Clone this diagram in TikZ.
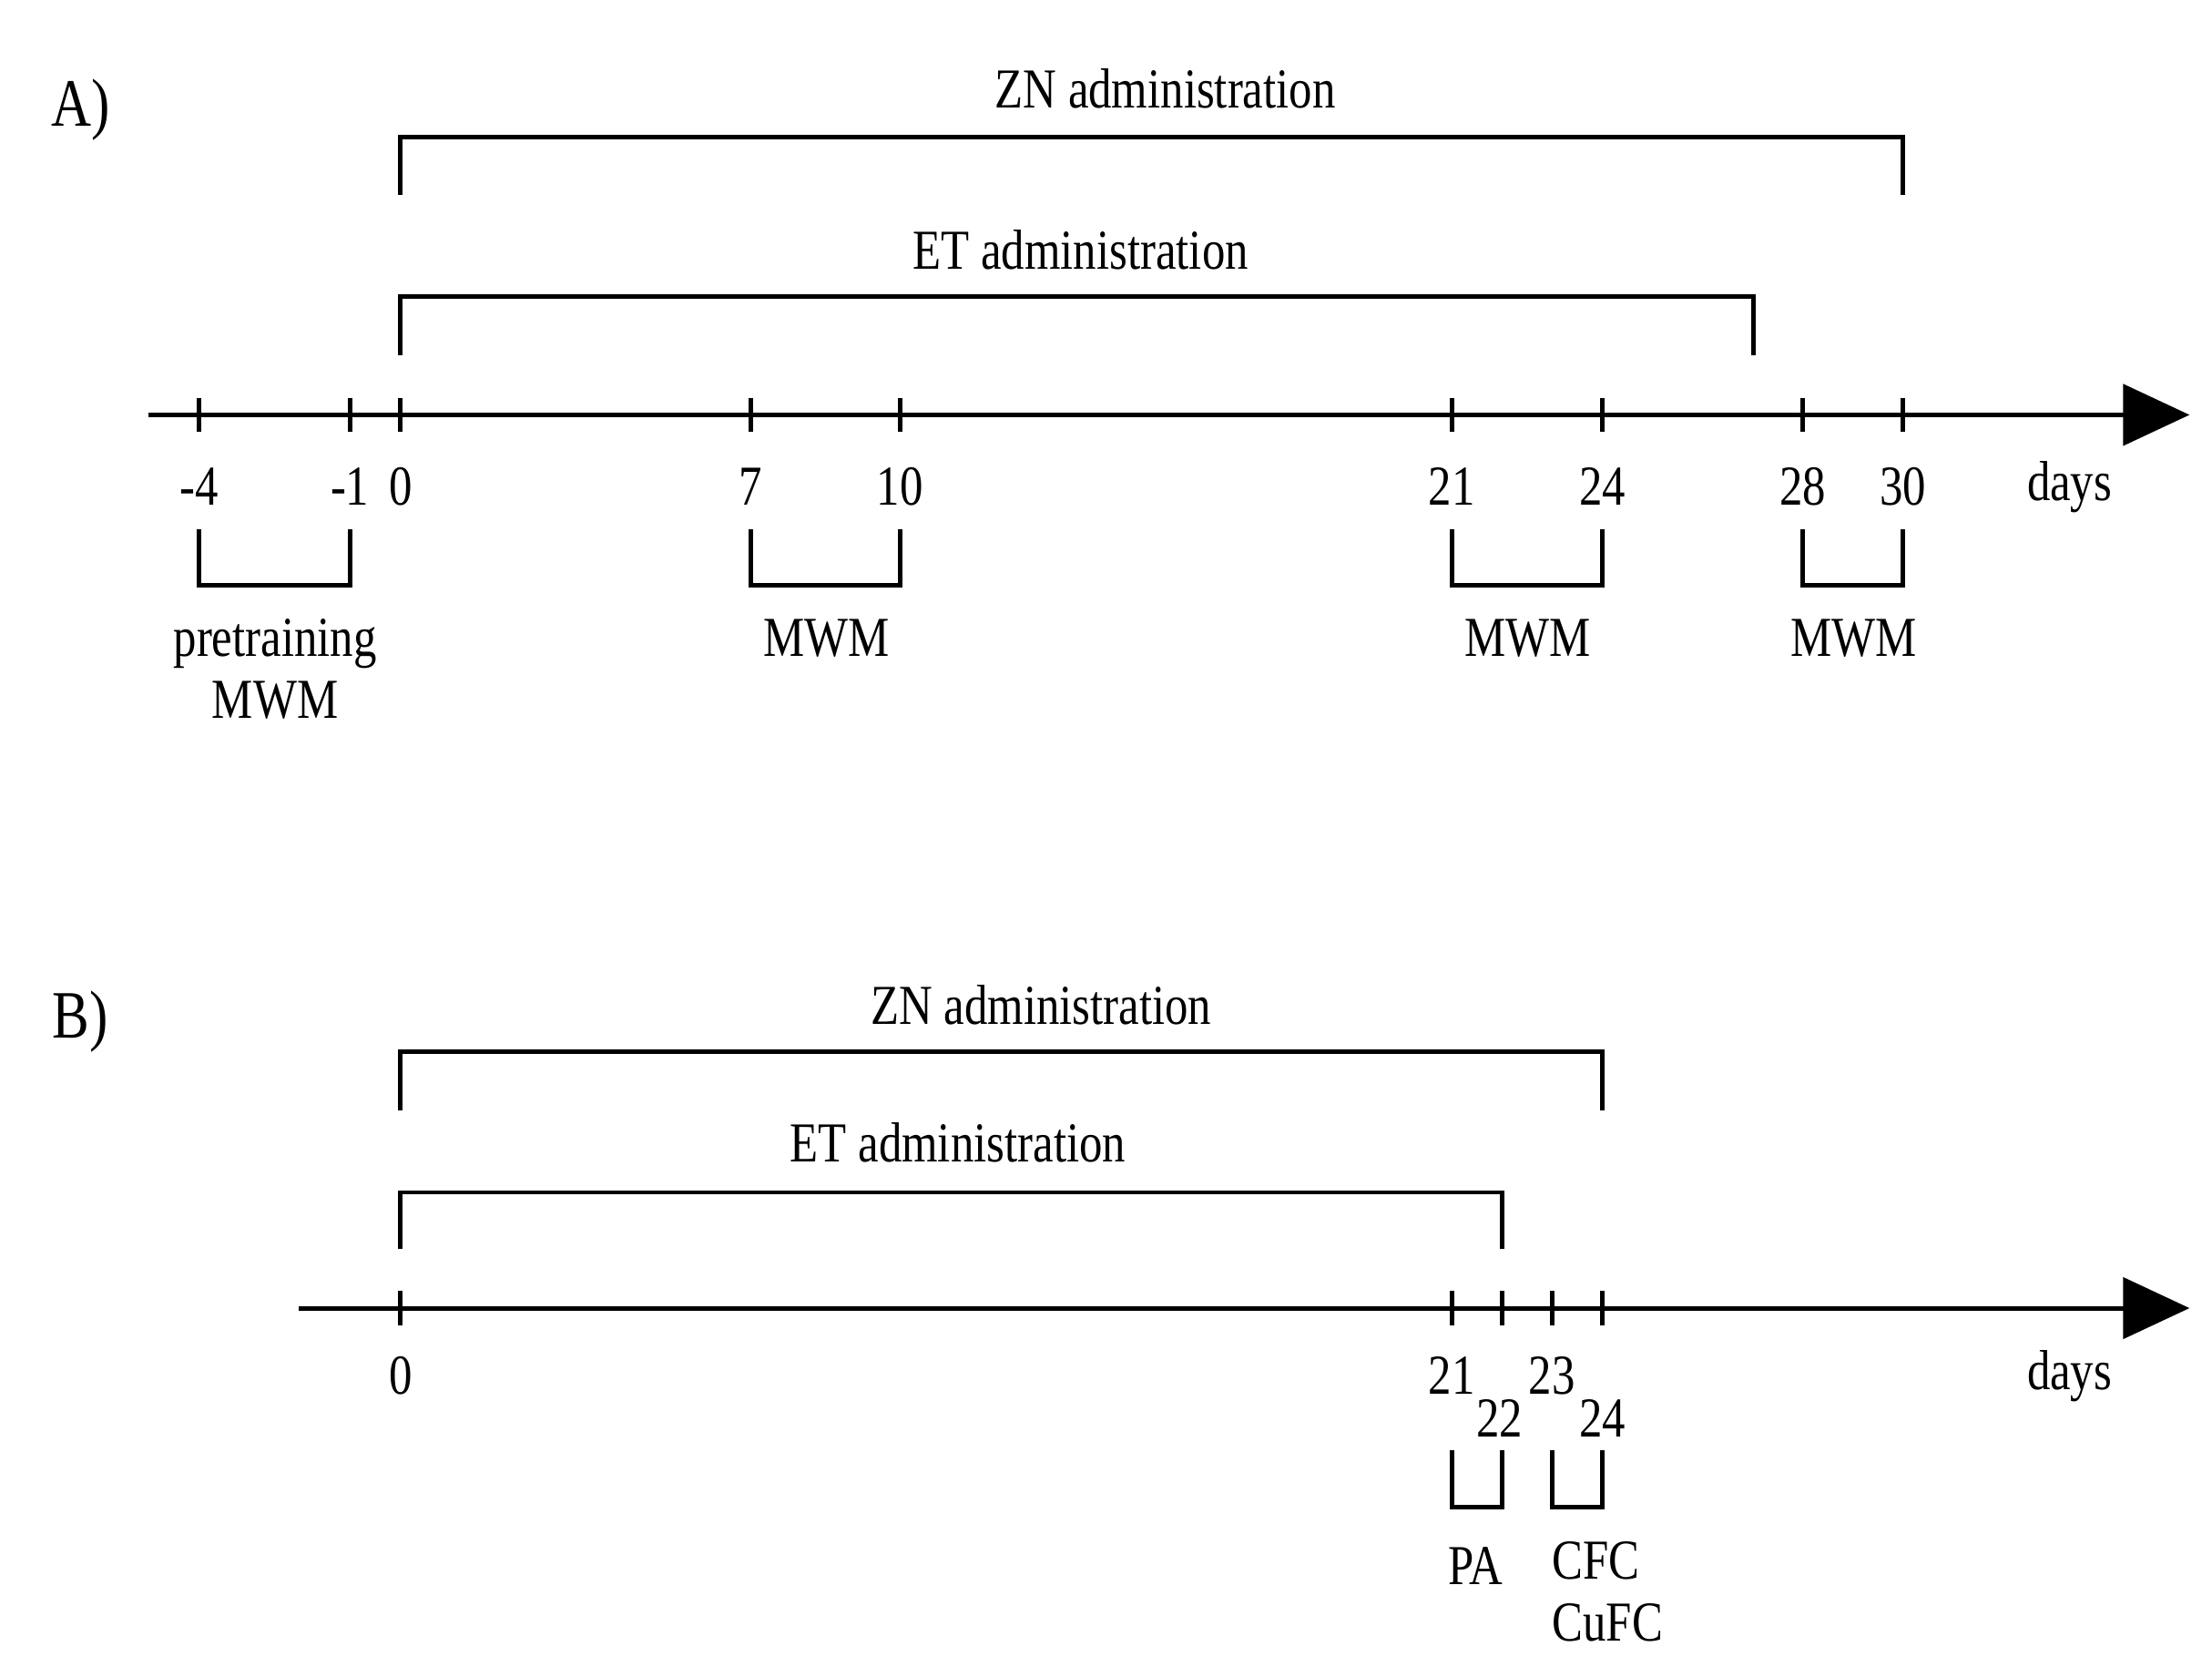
\documentclass[tikz,border=0pt]{standalone}
\usepackage{fontspec}
\setmainfont{Liberation Serif}
\begin{document}
\begin{tikzpicture}[x=0.5pt,y=-0.5pt,
  ln/.style={line width=1.6pt},
  lab/.style={font=\fontsize{20}{22}\selectfont,inner sep=0pt,xscale=0.82},
  arr/.style={fill=black}]
\useasboundingbox (0,0) rectangle (1568,1181);
% ===== A =====
\node[lab,font=\fontsize{24}{26}\selectfont] (A) at (57,78) {A)};
\coordinate (as) at (105,294); \coordinate (ae) at (1510,294);
\draw[ln] (as) -- (ae);
\fill[arr] (1505,272) -- (1552,294) -- (1505,316) -- cycle;
\foreach \x/\t/\n in {141/-4/m4,248/-1/m1,284/0/z,532/7/s,638/10/t,1029/21/a,1136/24/b,1278/28/c,1349/30/d}{
  \draw[ln] (\x,282) -- (\x,306);
  \node[lab] (A\n) at (\x,345) {\t};
}
\node[lab] (Adays) at (1467,345) {days};
\foreach \a/\b/\n in {141/248/p,532/638/q,1029/1136/r,1278/1349/s}{
  \draw[ln] (\a,375) -- (\a,415) -- (\b,415) -- (\b,375);
}
\node[lab,align=center] (Apre) at (195,474) {pretraining\\MWM};
\node[lab] (Am1) at (586,452) {MWM};
\node[lab] (Am2) at (1083,452) {MWM};
\node[lab] (Am3) at (1314,452) {MWM};
\draw[ln] (284,138) -- (284,97) -- (1349,97) -- (1349,138);
\node[lab] (Azn) at (826,63) {ZN administration};
\draw[ln] (284,252) -- (284,210) -- (1243,210) -- (1243,252);
\node[lab] (Aet) at (766,177) {ET administration};
% ===== B =====
\node[lab,font=\fontsize{24}{26}\selectfont] (B) at (57,724) {B)};
\coordinate (bs) at (212,927); \coordinate (be) at (1510,927);
\draw[ln] (bs) -- (be);
\fill[arr] (1505,905) -- (1552,927) -- (1505,949) -- cycle;
\foreach \x in {284,1029,1065,1100,1136}{\draw[ln] (\x,915) -- (\x,939);}
\node[lab] (B0) at (284,975) {0};
\node[lab] (B21) at (1029,975) {21};
\node[lab] (B23) at (1100,975) {23};
\node[lab] (B22) at (1063,1005) {22};
\node[lab] (B24) at (1136,1005) {24};
\node[lab] (Bdays) at (1467,975) {days};
\draw[ln] (284,787) -- (284,745) -- (1136,745) -- (1136,787);
\node[lab] (Bzn) at (738,712) {ZN administration};
\draw[ln] (284,885) -- (284,845) -- (1065,845) -- (1065,885);
\node[lab] (Bet) at (679,810) {ET administration};
\draw[ln] (1029,1028) -- (1029,1068) -- (1065,1068) -- (1065,1028);
\draw[ln] (1100,1028) -- (1100,1068) -- (1136,1068) -- (1136,1028);
\node[lab] (Bpa) at (1046,1110) {PA};
\node[lab,align=left,anchor=north west] (Bcfc) at (1100,1092) {CFC\\CuFC};
\end{tikzpicture}
\end{document}
